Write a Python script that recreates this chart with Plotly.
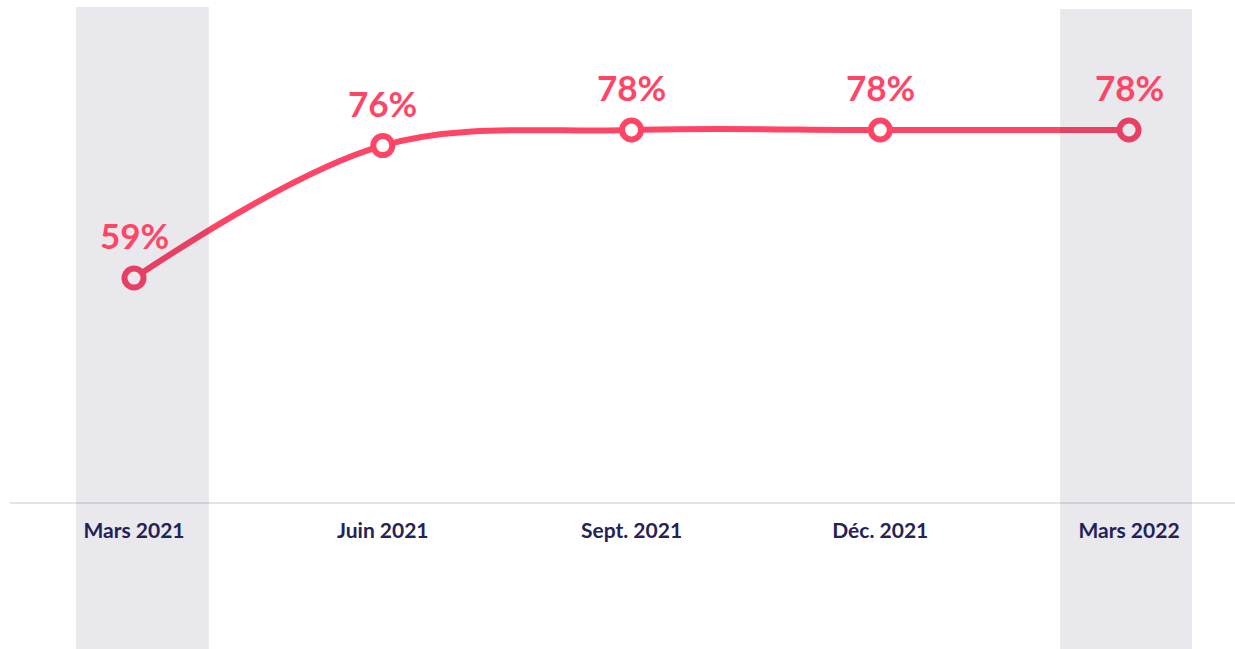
import plotly.graph_objects as go

categories = ["Mars 2021", "Juin 2021", "Sept. 2021", "Déc. 2021", "Mars 2022"]
values = [59, 76, 78, 78, 78]
labels = ["59%", "76%", "78%", "78%", "78%"]
highlighted = ["Mars 2021", "Mars 2022"]

PINK = "#FF4466"
NAVY = "#23235A"

xs = list(range(len(categories)))

fig = go.Figure()
fig.add_trace(go.Scatter(
    x=xs, y=values, mode="lines+markers",
    line=dict(color=PINK, width=6, shape="spline", smoothing=1.0),
    marker=dict(size=19, color="white", line=dict(color=PINK, width=6)),
    hoverinfo="skip", showlegend=False,
))

for x, v, t in zip(xs, values, labels):
    fig.add_annotation(x=x, y=v, text=t, showarrow=False, yshift=43,
                       font=dict(family="Lato, sans-serif", size=35, color=PINK, weight="bold"))

offsets = {0: (-0.233, 0.301, 0.986), 4: (-0.277, 0.253, 0.982)}
for c in highlighted:
    i = categories.index(c)
    lo, hi, top = offsets.get(i, (-0.267, 0.267, 0.986))
    fig.add_shape(type="rect", xref="x", yref="paper", x0=i + lo, x1=i + hi,
                  y0=-0.3, y1=top, fillcolor="#1F1F4F", opacity=0.1,
                  line=dict(width=0), layer="above")

fig.update_layout(
    width=1235, height=649,
    margin=dict(l=10, r=0, t=0, b=147),
    paper_bgcolor="white", plot_bgcolor="white",
    xaxis=dict(range=[-0.4985, 4.426], tickmode="array", tickvals=xs, ticktext=categories,
               showgrid=False, zeroline=False, showline=True, linecolor="#E4E4E8", linewidth=2,
               ticks="", ticklabelstandoff=9,
               tickfont=dict(family="Lato, sans-serif", size=21, color=NAVY, weight="bold")),
    yaxis=dict(range=[30.25, 94.69], visible=False, showgrid=False, zeroline=False),
)

fig.write_html("out.html", config={"displayModeBar": False},
               post_script="document.body.style.margin='0px';document.body.style.overflow='hidden';")
